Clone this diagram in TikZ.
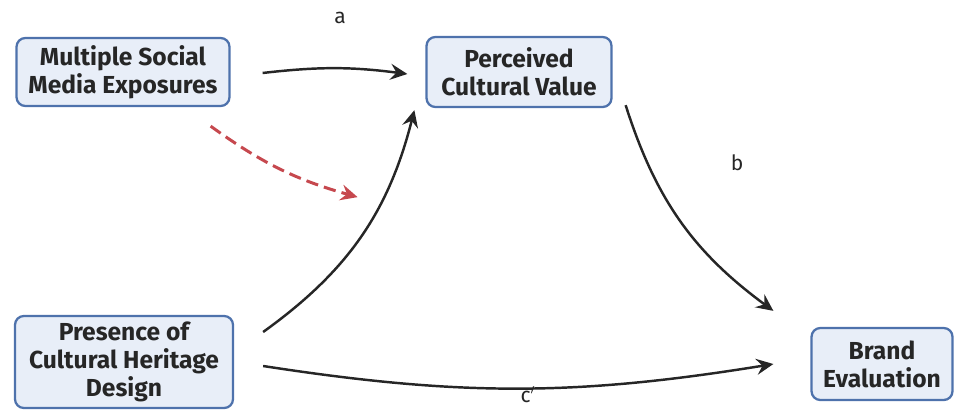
\documentclass[tikz,border=0pt]{standalone}
\usepackage{fontspec}
\setmainfont{Fira Sans}
\usetikzlibrary{arrows.meta}
\definecolor{boxfill}{RGB}{232,238,248}
\definecolor{boxline}{RGB}{78,114,172}
\definecolor{modred}{RGB}{198,72,78}
\definecolor{ink}{RGB}{38,38,38}

\begin{document}
\begin{tikzpicture}[x=0.02cm,y=0.02cm,
    var/.style={draw=boxline, fill=boxfill, line width=1.3pt, rounded corners=5pt,
      align=center, inner sep=0pt, text=ink,
      font=\fontsize{14}{16}\selectfont\bfseries},
    arr/.style={-{Stealth[length=3.4mm,width=3.2mm,inset=1.2mm]}, line width=1.4pt, draw=ink},
    modarr/.style={arr, draw=modred, line width=1.7pt, dash pattern=on 7pt off 3.5pt},
    lbl/.style={font=\fontsize{12}{14}\selectfont, text=ink}
  ]
    \useasboundingbox (0,0) rectangle (955,410);

    \node[var, minimum width=4.26cm, minimum height=1.36cm] (exposure) at (123,338)
      {Multiple Social\\Media Exposures};
    \node[var, minimum width=3.7cm, minimum height=1.4cm]   (value)    at (519,338)
      {Perceived\\Cultural Value};
    \node[var, minimum width=4.36cm, minimum height=1.84cm] (heritage) at (124,48)
      {Presence of\\Cultural Heritage\\Design};
    \node[var, minimum width=2.82cm, minimum height=1.44cm] (brand)    at (882,46)
      {Brand\\Evaluation};

    % paths
    \draw[arr] ([shift={(32,-1)}]exposure.east) to[bend left=7] ([shift={(-18,-2)}]value.west);
    \draw[modarr] ([shift={(-20,-19)}]exposure.south east) to[bend right=10] ([shift={(127,-90)}]exposure.south east);
    \draw[arr] ([shift={(29,30)}]heritage.east) to[bend right=20] ([shift={(-11,-2)}]value.south west);
    \draw[arr] ([shift={(13,3)}]value.south east) to[bend right=18] ([shift={(-37,16)}]brand.north west);
    \draw[arr] ([shift={(29,-4)}]heritage.east) to[bend right=9] ([shift={(-37,0)}]brand.west);

    % labels
    \node[lbl] (la) at (340,392) {a};
    \node[lbl] (lb) at (737,247) {b};
    \node[lbl] (lc) at (528,15) {c$'$};
\end{tikzpicture}
\end{document}
